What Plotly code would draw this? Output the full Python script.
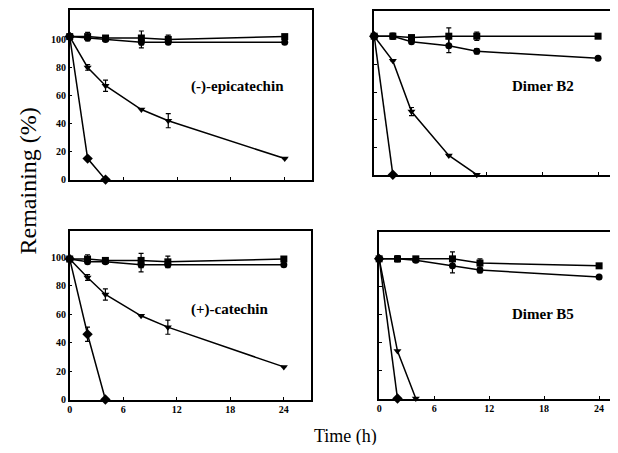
import plotly.graph_objects as go

PAGE_W, PAGE_H = 618, 453
OFF = 8  # default page body margin in the browser
W, H = PAGE_W - 2 * OFF, PAGE_H - 2 * OFF  # figure fits the window exactly

times = [0, 2, 4, 8, 11, 24]

# (-)-epicatechin
epi_sq = [102, 102, 101, 101, 100, 102]
epi_sq_err = [0, 3, 0, 5, 3, 0]
epi_ci = [102, 101, 100, 98, 98, 98]
epi_ci_err = [0, 0, 0, 4, 0, 0]
epi_tri = [102, 80, 67, 50, 42, 15]
epi_tri_err = [0, 2, 4, 0, 5, 0]
epi_dia = [102, 15, 0]

# Dimer B2
b2_sq = [101, 101, 100, 101, 101, 101]
b2_sq_err = [0, 2, 0, 6, 3, 0]
b2_ci = [101, 101, 97, 94, 90, 85]
b2_ci_err = [0, 2, 0, 5, 2, 0]
b2_tri = [101, 83, 46, 14, 0]
b2_tri_err = [0, 0, 3, 0, 0]
b2_dia = [101, 0]

# (+)-catechin
cat_sq = [99, 99, 98, 98, 97, 99]
cat_sq_err = [0, 3, 0, 5, 4, 0]
cat_ci = [99, 97, 97, 95, 95, 95]
cat_ci_err = [0, 0, 0, 5, 0, 0]
cat_tri = [99, 86, 74, 59, 51, 23]
cat_tri_err = [0, 2, 4, 0, 5, 0]
cat_dia = [99, 46, 0]
cat_dia_err = [0, 5, 0]

# Dimer B5
b5_sq = [100, 100, 100, 100, 97, 95]
b5_sq_err = [0, 2, 0, 5, 3, 0]
b5_ci = [100, 100, 99, 95, 92, 87]
b5_ci_err = [0, 2, 0, 5, 2, 0]
b5_tri = [100, 34, 0]
b5_dia = [100, 0]

panel_labels = ["(-)-epicatechin", "Dimer B2", "(+)-catechin", "Dimer B5"]
x_ticks = [0, 6, 12, 18, 24]
y_ticks = [0, 20, 40, 60, 80, 100]

SERIF = "Liberation Serif"

fig = go.Figure()

def add(xa, ya, y, err, symbol, size):
    n = len(y)
    kw = {}
    if err is not None:
        kw["error_y"] = dict(type="data", array=err, visible=True,
                             color="black", thickness=1.2, width=2.5)
    fig.add_trace(go.Scatter(
        x=times[:n], y=y, mode="lines+markers", xaxis=xa, yaxis=ya,
        line=dict(color="black", width=1.5),
        marker=dict(symbol=symbol, size=size, color="black"),
        cliponaxis=False, showlegend=False, **kw))

panels = [
    ("x", "y", [(epi_sq, epi_sq_err), (epi_ci, epi_ci_err), (epi_tri, epi_tri_err), (epi_dia, None)]),
    ("x2", "y2", [(b2_sq, b2_sq_err), (b2_ci, b2_ci_err), (b2_tri, b2_tri_err), (b2_dia, None)]),
    ("x3", "y3", [(cat_sq, cat_sq_err), (cat_ci, cat_ci_err), (cat_tri, cat_tri_err), (cat_dia, cat_dia_err)]),
    ("x4", "y4", [(b5_sq, b5_sq_err), (b5_ci, b5_ci_err), (b5_tri, None), (b5_dia, None)]),
]
symbols = [("square", 7), ("circle", 7), ("triangle-down", 7), ("diamond", 8)]

for xa, ya, series in panels:
    for (vals, err), (sym, sz) in zip(series, symbols):
        add(xa, ya, vals, err, sym, sz)

def px_x(p):
    return (p - OFF) / W

def px_y(p):
    return 1 - (p - OFF) / H

# panel geometry in page px: (left, right, top, bottom), x range max, y range max
geo = [
    (67, 311, 10, 182, 27.1, 121),
    (373, PAGE_W - OFF, 11, 177, 25.28, 119.4),
    (67, 310, 234, 405, 27.1, 118.8),
    (378, PAGE_W - OFF, 235, 404, 25.19, 119.3),
]

tickfont = dict(family=SERIF, size=10, color="black", weight="bold")

layout = {}
for i, (l, r, t, b, xm, ym) in enumerate(geo):
    sfx = "" if i == 0 else str(i + 1)
    left_panel = i in (0, 2)
    bottom_panel = i in (2, 3)
    layout["xaxis" + sfx] = dict(
        domain=[px_x(l), min(1, px_x(r))], range=[0, xm], anchor="y" + sfx,
        showline=True, linecolor="black", linewidth=1.5, mirror=True,
        showgrid=False, zeroline=False, ticks="inside", ticklen=3,
        tickcolor="black", tickvals=x_ticks, showticklabels=bottom_panel,
        tickfont=tickfont,
    )
    layout["yaxis" + sfx] = dict(
        domain=[px_y(b), px_y(t)], range=[0, ym], anchor="x" + sfx,
        showline=True, linecolor="black", linewidth=1.5, mirror=left_panel,
        showgrid=False, zeroline=False, ticks="inside", ticklen=3,
        tickcolor="black", tickvals=y_ticks, showticklabels=left_panel,
        tickfont=tickfont,
    )

label_pos = [(236, 88), (543, 87), (228, 314), (543, 318)]
annotations = []
for txt, (x, y) in zip(panel_labels, label_pos):
    annotations.append(dict(text="<b>%s</b>" % txt, x=px_x(x), y=px_y(y),
                            xref="paper", yref="paper", showarrow=False,
                            font=dict(family=SERIF, size=15, color="black"),
                            xanchor="center", yanchor="middle"))
annotations.append(dict(text="Remaining (%)", x=px_x(25), y=px_y(183),
                        xref="paper", yref="paper", showarrow=False, textangle=-90,
                        font=dict(family=SERIF, size=24, color="black"),
                        xanchor="center", yanchor="middle"))
annotations.append(dict(text="Time (h)", x=px_x(344), y=px_y(442),
                        xref="paper", yref="paper", showarrow=False,
                        font=dict(family=SERIF, size=18, color="black"),
                        xanchor="center", yanchor="middle"))

fig.update_layout(
    width=W, height=H, margin=dict(l=0, r=0, t=0, b=0),
    paper_bgcolor="white", plot_bgcolor="white",
    annotations=annotations, **layout,
)

fig.write_html("out.html")
